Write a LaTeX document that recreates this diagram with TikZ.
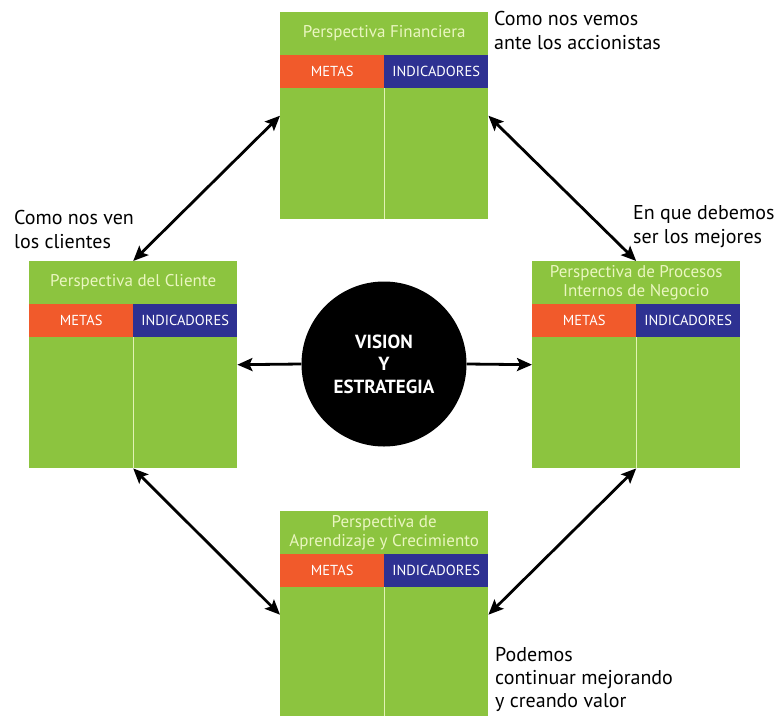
\documentclass[tikz,border=0pt]{standalone}
\usepackage{fontspec}
\setmainfont{PT Sans}
\usetikzlibrary{arrows.meta,calc}

\definecolor{panelgreen}{HTML}{8CC43F}
\definecolor{metared}{HTML}{F15A2B}
\definecolor{indblue}{HTML}{2E3192}
\definecolor{titletext}{HTML}{EAF6C0}
\definecolor{splitline}{HTML}{E2F2B4}

\tikzset{
  panel/.style={rectangle, fill=panelgreen, minimum width=208pt,
    minimum height=207pt, inner sep=0pt, anchor=north west},
  ptitle/.style={text=titletext, font=\fontsize{17}{19}\selectfont,
    align=center, inner sep=0pt},
  metaband/.style={rectangle, fill=metared, text=white, inner sep=0pt,
    minimum width=104pt, minimum height=33pt, anchor=north west,
    font=\fontsize{14.5}{16}\selectfont},
  indband/.style={metaband, fill=indblue},
  remark/.style={font=\fontsize{20}{24}\selectfont, align=left,
    anchor=north west, inner sep=0pt},
  core/.style={circle, fill=black, minimum size=165pt, inner sep=0pt,
    text=white, align=center, font=\bfseries\fontsize{19}{22.5}\selectfont},
  tip/.tip={Stealth[length=15pt,width=13pt,inset=3pt]},
  link/.style={line width=2.8pt, tip-tip},
  spoke/.style={line width=2.8pt, -tip},
  divider/.style={draw=splitline, line width=1.4pt}
}

% one perspective panel: name, top-left corner, title
\newcommand\perspective[3]{%
  \node[panel] (#1) at (#2) {};
  \node[ptitle] (#1-title) at ($(#1.north)+(0,21.5)$) {#3};
  \node[metaband] (#1-metas) at ($(#1.north west)+(0,43)$) {METAS};
  \node[indband] (#1-ind) at ($(#1.north west)+(104,43)$) {INDICADORES};
  \draw[divider] (#1-metas.south east) -- (#1-metas.south east |- #1.south);
}

\begin{document}
\begin{tikzpicture}[x=1pt, y=-1pt]
  \useasboundingbox (0,0) rectangle (779,715);

  \perspective{fin}{280,12}{Perspectiva Financiera}
  \perspective{cli}{29,261}{Perspectiva del Cliente}
  \perspective{pro}{532,261}{Perspectiva de Procesos\\Internos de Negocio}
  \perspective{apr}{280,511}{Perspectiva de\\Aprendizaje y Crecimiento}

  \node[core] (vision) at (384,364) {VISION\\Y\\ESTRATEGIA};

  \draw[link] (fin.west) -- (cli.north);
  \draw[link] (fin.east) -- (pro.north);
  \draw[link] (cli.south) -- (apr.west);
  \draw[link] (pro.south) -- (apr.east);
  \draw[spoke] (vision.west) -- (cli.east);
  \draw[spoke] (vision.east) -- (pro.west);

  \node[remark] (r-fin) at (494,11) {Como nos vemos\\ante los accionistas};
  \node[remark] (r-cli) at (14,210) {Como nos ven\\los clientes};
  \node[remark] (r-pro) at (633,205) {En que debemos\\ser los mejores};
  \node[remark, font=\fontsize{20}{23}\selectfont] (r-apr) at (495,647)
    {Podemos\\continuar mejorando\\y creando valor};
\end{tikzpicture}
\end{document}
